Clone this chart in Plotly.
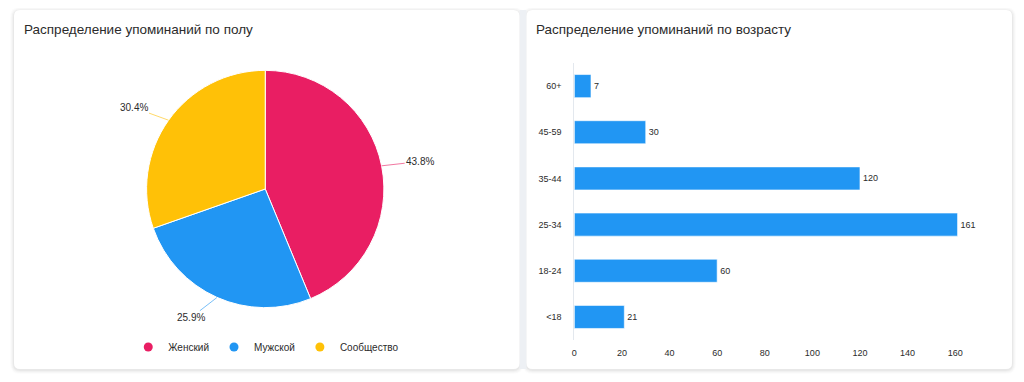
import math
import plotly.graph_objects as go

# ---------------- data ----------------
gender_labels = ["Женский", "Мужской", "Сообщество"]
gender_share = [43.8, 25.9, 30.4]
gender_colors = ["#E91E63", "#2196F3", "#FFC107"]
leader_colors = ["rgba(233,30,99,0.6)", "rgba(33,150,243,0.6)", "rgba(255,193,7,0.6)"]

age_groups = ["<18", "18-24", "25-34", "35-44", "45-59", "60+"]
age_counts = [21, 60, 161, 120, 30, 7]
age_ticks = [0, 20, 40, 60, 80, 100, 120, 140, 160]

titles = ["Распределение упоминаний по полу", "Распределение упоминаний по возрасту"]

# ---------------- layout helpers ----------------
OX, OY = 8, 8            # page body margin
W, H = 1024 - OX, 382 - OY
FONT = "Liberation Sans, Arial, Helvetica, sans-serif"
TXT = "#2b2b2b"


def px(x):
    return (x - OX) / W


def py(y):
    return 1 - (y - OY) / H


def rounded_rect(x0, y0, x1, y1, r):
    pts = [
        f"M {px(x0 + r)},{py(y0)}",
        f"L {px(x1 - r)},{py(y0)}",
        f"Q {px(x1)},{py(y0)} {px(x1)},{py(y0 + r)}",
        f"L {px(x1)},{py(y1 - r)}",
        f"Q {px(x1)},{py(y1)} {px(x1 - r)},{py(y1)}",
        f"L {px(x0 + r)},{py(y1)}",
        f"Q {px(x0)},{py(y1)} {px(x0)},{py(y1 - r)}",
        f"L {px(x0)},{py(y0 + r)}",
        f"Q {px(x0)},{py(y0)} {px(x0 + r)},{py(y0)}",
        "Z",
    ]
    return " ".join(pts)


cards = [(11, 10, 518, 369), (525, 10, 1012, 369)]
shapes = []
for (x0, y0, x1, y1) in cards:
    for k, a in [(4, 0.012), (3, 0.018), (2, 0.025), (1, 0.035)]:
        shapes.append(dict(type="path", xref="paper", yref="paper", layer="below",
                           path=rounded_rect(x0 - k, y0 - k + 1, x1 + k, y1 + k + 1, 6 + k),
                           fillcolor=f"rgba(0,0,0,{a})", line=dict(width=0)))
shapes.append(dict(type="rect", xref="paper", yref="paper", layer="below",
                   x0=px(518), x1=px(525), y0=py(369), y1=py(10),
                   fillcolor="#edf0f4", line=dict(width=0)))
for (x0, y0, x1, y1) in cards:
    shapes.append(dict(type="path", xref="paper", yref="paper", layer="below",
                       path=rounded_rect(x0, y0, x1, y1, 6),
                       fillcolor="white", line=dict(width=0)))

fig = go.Figure()

# ---------------- pie ----------------
cx, cy, R = 263, 189, 119
fig.add_trace(go.Pie(
    labels=gender_labels, values=gender_share, sort=False, direction="clockwise",
    rotation=0, marker=dict(colors=gender_colors, line=dict(color="white", width=1)),
    textinfo="none", hoverinfo="label+percent", showlegend=False,
    domain=dict(x=[px(cx - R), px(cx + R)], y=[py(cy + R), py(cy - R)]),
))

for lab, col in zip(gender_labels, gender_colors):
    fig.add_trace(go.Scatter(x=[None], y=[None], mode="markers", name=lab,
                             marker=dict(color=col, size=9), xaxis="x2", yaxis="y2",
                             showlegend=True))

annotations = []
total = sum(gender_share)
cum = 0
for v, lc in zip(gender_share, leader_colors):
    mid = (cum + v / 2) / total
    cum += v
    th = 2 * math.pi * mid
    sx, sy = math.sin(th), math.cos(th)
    ex, ey = cx + R * sx, cy - R * sy
    ax = sx * 22 + (17 if sx >= 0 else -17)
    ay = -sy * 22
    annotations.append(dict(
        x=px(ex), y=py(ey), xref="paper", yref="paper", text=f"{v:.1f}%",
        showarrow=True, arrowhead=0, arrowwidth=1, arrowcolor=lc, ax=ax, ay=ay,
        font=dict(size=10, color=TXT, family=FONT)))

for t, x in zip(titles, [19, 533]):
    annotations.append(dict(x=px(x), y=py(29), xref="paper", yref="paper", text=t,
                            showarrow=False, xanchor="left", yanchor="middle",
                            font=dict(size=13.5, color=TXT, family=FONT)))

# ---------------- bar ----------------
fig.add_trace(go.Bar(
    x=age_counts, y=age_groups, orientation="h", text=age_counts,
    textposition="outside", cliponaxis=False,
    textfont=dict(size=9, color=TXT, family=FONT),
    marker=dict(color="#2196F3", line=dict(color="rgba(255,255,255,0.6)", width=1)),
    showlegend=False, hoverinfo="x+y",
))

x_max = 170
fig.update_layout(
    width=W, height=H, margin=dict(l=0, r=0, t=0, b=0),
    paper_bgcolor="white", plot_bgcolor="rgba(0,0,0,0)",
    font=dict(family=FONT, color=TXT),
    shapes=shapes, annotations=annotations, bargap=0.5,
    xaxis=dict(domain=[px(573), px(573 + x_max * (955 - 573) / 160)], range=[0, x_max],
               tickvals=age_ticks, showgrid=False, zeroline=False, showline=False,
               ticks="", tickfont=dict(size=9, color=TXT), ticklabelstandoff=6,
               fixedrange=True),
    yaxis=dict(domain=[py(340), py(63)], categoryorder="array", categoryarray=age_groups,
               showgrid=False, zeroline=False, showline=True, linecolor="#e3e8ee",
               linewidth=1, ticks="", tickfont=dict(size=9, color=TXT),
               ticklabelstandoff=10, fixedrange=True),
    xaxis2=dict(domain=[0, 0.01], visible=False, anchor="y2"),
    yaxis2=dict(domain=[0, 0.01], visible=False, anchor="x2"),
    legend=dict(orientation="h", x=px(264), xanchor="center", y=py(347), yanchor="middle",
                font=dict(size=10, color=TXT, family=FONT), itemwidth=30,
                bgcolor="rgba(0,0,0,0)"),
)

fig.write_html("out.html")
